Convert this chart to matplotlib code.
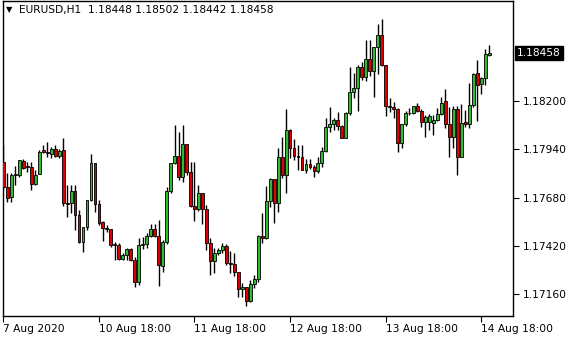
import matplotlib
matplotlib.use("Agg")
import matplotlib.pyplot as plt
import matplotlib.transforms as mtransforms

symbol = "EURUSD,H1"

opens = [1.17873, 1.17739, 1.17684, 1.17802, 1.17802, 1.17877, 1.17850, 1.17845, 1.17753, 1.17806,
         1.17936, 1.17926, 1.17915, 1.17942, 1.17904, 1.17936, 1.17651, 1.17650, 1.17716, 1.17587,
         1.17443, 1.17522, 1.17667, 1.17866, 1.17646, 1.17549, 1.17518, 1.17509, 1.17423, 1.17423,
         1.17348, 1.17370, 1.17404, 1.17345, 1.17228, 1.17425, 1.17431, 1.17474, 1.17511, 1.17475,
         1.17314, 1.17443, 1.17716, 1.17865, 1.17904, 1.17793, 1.17967, 1.17816, 1.17637, 1.17617,
         1.17707, 1.17617, 1.17436, 1.17341, 1.17384, 1.17398, 1.17420, 1.17327, 1.17323, 1.17279,
         1.17187, 1.17198, 1.17126, 1.17214, 1.17241, 1.17474, 1.17461, 1.17664, 1.17779, 1.17653,
         1.17900, 1.17802, 1.18044, 1.17946, 1.17904, 1.17900, 1.17829, 1.17861, 1.17843, 1.17825,
         1.17865, 1.17931, 1.18058, 1.18076, 1.18098, 1.18067, 1.18003, 1.18134, 1.18250, 1.18268,
         1.18381, 1.18331, 1.18424, 1.18363, 1.18489, 1.18555, 1.18394, 1.18173, 1.18168, 1.18159,
         1.17972, 1.18076, 1.18133, 1.18133, 1.18173, 1.18148, 1.18089, 1.18089, 1.18083, 1.18098,
         1.18130, 1.18200, 1.18076, 1.18006, 1.18155, 1.17900, 1.18085, 1.18075, 1.18179, 1.18349,
         1.18292, 1.18322, 1.18448]

highs = [1.17963, 1.17813, 1.17813, 1.17850, 1.17883, 1.17888, 1.17873, 1.17873, 1.17829, 1.17936,
         1.17963, 1.17979, 1.17951, 1.17963, 1.17940, 1.18001, 1.17748, 1.17748, 1.17748, 1.17613,
         1.17522, 1.17667, 1.17915, 1.17866, 1.17667, 1.17554, 1.17533, 1.17511, 1.17443, 1.17436,
         1.17384, 1.17411, 1.17409, 1.17362, 1.17463, 1.17468, 1.17490, 1.17538, 1.17538, 1.17560,
         1.17452, 1.17739, 1.17868, 1.18071, 1.18035, 1.18071, 1.17967, 1.17873, 1.17873, 1.17748,
         1.17707, 1.17640, 1.17461, 1.17409, 1.17409, 1.17434, 1.17431, 1.17394, 1.17381, 1.17282,
         1.17219, 1.17198, 1.17237, 1.17264, 1.17479, 1.17599, 1.17743, 1.17784, 1.17779, 1.17946,
         1.18008, 1.18155, 1.18048, 1.17994, 1.17963, 1.17963, 1.17886, 1.17886, 1.17856, 1.17897,
         1.17954, 1.18107, 1.18166, 1.18107, 1.18142, 1.18071, 1.18142, 1.18381, 1.18349, 1.18394,
         1.18408, 1.18528, 1.18528, 1.18489, 1.18614, 1.18640, 1.18394, 1.18216, 1.18196, 1.18161,
         1.18076, 1.18146, 1.18161, 1.18173, 1.18191, 1.18155, 1.18125, 1.18130, 1.18125, 1.18161,
         1.18220, 1.18263, 1.18169, 1.18173, 1.18173, 1.18182, 1.18152, 1.18295, 1.18352, 1.18421,
         1.18331, 1.18478, 1.18502]

lows = [1.17721, 1.17658, 1.17656, 1.17748, 1.17791, 1.17834, 1.17820, 1.17721, 1.17748, 1.17806,
        1.17920, 1.17900, 1.17895, 1.17897, 1.17892, 1.17635, 1.17578, 1.17597, 1.17506, 1.17436,
        1.17389, 1.17506, 1.17664, 1.17604, 1.17533, 1.17449, 1.17497, 1.17416, 1.17345, 1.17345,
        1.17345, 1.17345, 1.17339, 1.17201, 1.17210, 1.17404, 1.17409, 1.17468, 1.17470, 1.17206,
        1.17282, 1.17431, 1.17704, 1.17861, 1.17775, 1.17766, 1.17802, 1.17628, 1.17556, 1.17610,
        1.17538, 1.17398, 1.17264, 1.17277, 1.17372, 1.17384, 1.17318, 1.17273, 1.17258, 1.17144,
        1.17144, 1.17097, 1.17120, 1.17192, 1.17228, 1.17434, 1.17456, 1.17628, 1.17545, 1.17604,
        1.17784, 1.17707, 1.17892, 1.17883, 1.17829, 1.17829, 1.17814, 1.17833, 1.17793, 1.17814,
        1.17843, 1.17927, 1.18035, 1.18044, 1.18044, 1.17999, 1.17999, 1.18125, 1.18215, 1.18148,
        1.18313, 1.18309, 1.18334, 1.18223, 1.18345, 1.18388, 1.18119, 1.18142, 1.18107, 1.17926,
        1.17947, 1.18065, 1.18125, 1.18128, 1.18142, 1.18062, 1.18008, 1.18044, 1.18017, 1.18094,
        1.18125, 1.18055, 1.17900, 1.17947, 1.17802, 1.17897, 1.18060, 1.18053, 1.18169, 1.18094,
        1.18238, 1.18286, 1.18442]

closes = [1.17739, 1.17677, 1.17802, 1.17807, 1.17883, 1.17840, 1.17845, 1.17753, 1.17802, 1.17927,
          1.17926, 1.17920, 1.17942, 1.17904, 1.17931, 1.17650, 1.17646, 1.17716, 1.17587, 1.17443,
          1.17522, 1.17667, 1.17866, 1.17646, 1.17545, 1.17518, 1.17509, 1.17425, 1.17428, 1.17348,
          1.17370, 1.17404, 1.17345, 1.17228, 1.17425, 1.17431, 1.17474, 1.17511, 1.17475, 1.17318,
          1.17443, 1.17716, 1.17865, 1.17904, 1.17793, 1.17967, 1.17816, 1.17637, 1.17617, 1.17707,
          1.17617, 1.17436, 1.17341, 1.17384, 1.17398, 1.17420, 1.17327, 1.17323, 1.17279, 1.17187,
          1.17198, 1.17126, 1.17214, 1.17241, 1.17474, 1.17461, 1.17664, 1.17779, 1.17653, 1.17900,
          1.17802, 1.18044, 1.17946, 1.17904, 1.17900, 1.17829, 1.17861, 1.17843, 1.17825, 1.17865,
          1.17931, 1.18058, 1.18076, 1.18098, 1.18067, 1.18003, 1.18134, 1.18250, 1.18268, 1.18381,
          1.18331, 1.18424, 1.18363, 1.18489, 1.18555, 1.18394, 1.18173, 1.18168, 1.18159, 1.17972,
          1.18076, 1.18137, 1.18137, 1.18173, 1.18148, 1.18089, 1.18116, 1.18121, 1.18098, 1.18130,
          1.18191, 1.18076, 1.18004, 1.18155, 1.17900, 1.18080, 1.18075, 1.18179, 1.18345, 1.18286,
          1.18322, 1.18453, 1.18458]

price_ticks = [1.17160, 1.17420, 1.17680, 1.17940, 1.18200]
time_labels = ["7 Aug 2020", "10 Aug 18:00", "11 Aug 18:00", "12 Aug 18:00",
               "13 Aug 18:00", "14 Aug 18:00"]
bars_per_label = 24

FS = 7.7
UP = "#32b832"
DOWN = "#dd0000"

fig = plt.figure(figsize=(5.8, 3.4), dpi=100)
ax = fig.add_axes([3 / 580, 24 / 340, 510 / 580, 315 / 340])

idx = list(range(len(opens)))
ax.vlines(idx, lows, highs, color="black", linewidth=1.0, zorder=2)
bottoms = [min(o, c) for o, c in zip(opens, closes)]
heights = [abs(c - o) for o, c in zip(opens, closes)]
colors = [UP if c >= o else DOWN for o, c in zip(opens, closes)]
ax.bar(idx, heights, bottom=bottoms, width=0.72, color=colors,
       edgecolor="black", linewidth=0.6, zorder=3)

ax.set_xlim(-0.1, 128)
ax.set_ylim(1.17043, 1.18738)

for s in ax.spines.values():
    s.set_linewidth(1.0)
    s.set_color("black")

ax.yaxis.tick_right()
ax.set_yticks(price_ticks)
ax.set_yticklabels([f"{p:.5f}" for p in price_ticks])
ax.tick_params(axis="y", direction="out", length=4, width=0.8, pad=3, labelsize=FS)

ax.set_xticks([i * bars_per_label for i in range(len(time_labels))])
ax.set_xticklabels(time_labels, ha="left")
ax.tick_params(axis="x", direction="out", length=4, width=0.8, pad=1.5, labelsize=FS)

# last price box on the right scale
trans = mtransforms.blended_transform_factory(ax.transAxes, ax.transData)
ax.text(1.008, closes[-1], f"{closes[-1]:.5f}", transform=trans, color="white",
        fontsize=FS, va="center", ha="left",
        bbox=dict(boxstyle="square,pad=0.2", fc="black", ec="black"))

# header line
fig.text(9 / 580, 1 - 10 / 340, "\u25bc", fontsize=6, va="center", ha="center")
fig.text(19 / 580, 1 - 10 / 340,
         f"{symbol}  {opens[-1]:.5f} {highs[-1]:.5f} {lows[-1]:.5f} {closes[-1]:.5f}",
         fontsize=FS, va="center", ha="left")

fig.savefig("out.png", dpi=100)
